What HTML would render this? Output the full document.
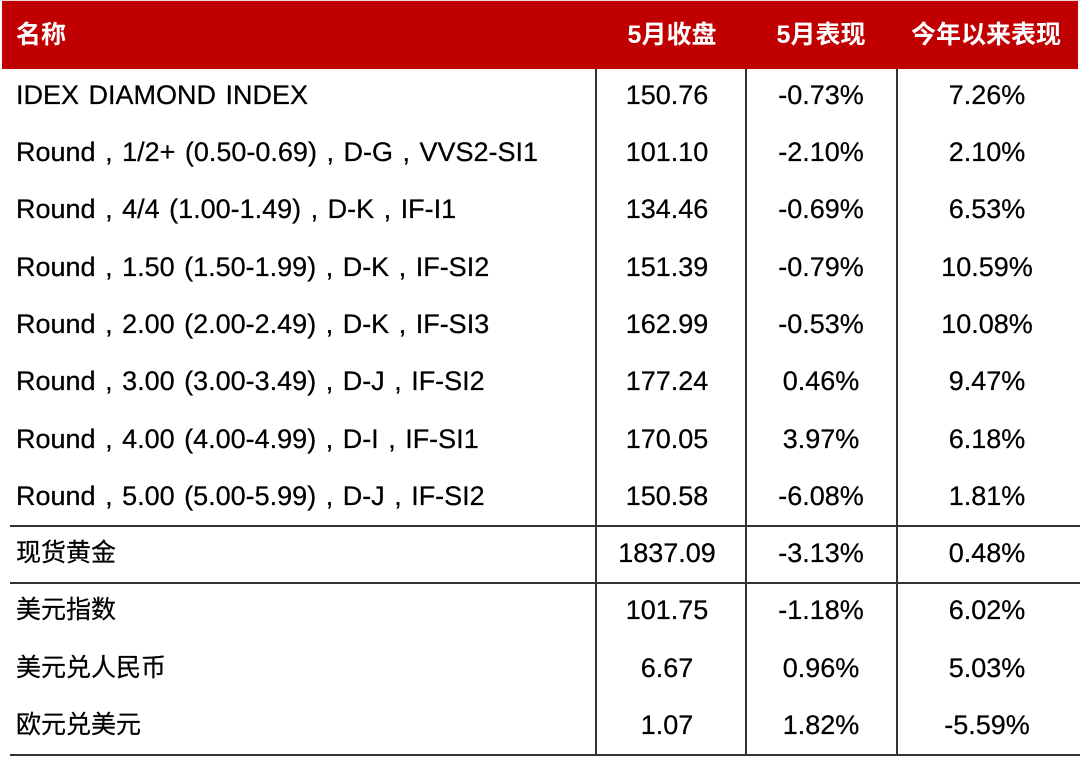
<!DOCTYPE html>
<html>
<head>
<meta charset="utf-8">
<style>
  html, body { margin:0; padding:0; background:#fff; }
  body { width:1080px; height:772px; position:relative; overflow:hidden;
         font-family:"Liberation Sans","Noto Sans CJK SC",sans-serif; color:#000; }
  .hdr { position:absolute; left:2px; top:1px; width:1076px; height:68px; background:#C00000; }
  .topline { position:absolute; left:0; top:0; width:1080px; height:1px; background:#f3d6d6; }
  .ht { position:absolute; top:1px; height:68px; line-height:68px; color:#fff; font-weight:bold;
        font-size:25px; font-family:"Liberation Sans","Noto Sans CJK SC",sans-serif; white-space:nowrap; }
  .c { text-align:center; width:200px; }
  .row { position:absolute; left:0; width:1080px; height:40px; }
  .row span { position:absolute; top:0; height:40px; line-height:40px; font-size:27px; white-space:nowrap;
              -webkit-text-stroke:0.25px #000; }
  .row .lab { left:16px; word-spacing:2px; }
  .row .cj { font-size:25px; font-family:"Liberation Sans","Noto Sans CJK SC",sans-serif; }
  .row .v2 { left:567px; width:200px; text-align:center; }
  .row .v3 { left:721px; width:200px; text-align:center; }
  .row .v4 { left:887px; width:200px; text-align:center; }
  .vl { position:absolute; top:69px; height:687px; width:2px; background:#333; }
  .hl { position:absolute; left:10px; width:1070px; height:2px; background:#333; }
</style>
</head>
<body>
<div class="topline"></div>
<div class="hdr"></div>
<div class="ht" style="left:16px;">名称</div>
<div class="ht c" style="left:572px;">5月收盘</div>
<div class="ht c" style="left:721px;">5月表现</div>
<div class="ht c" style="left:886px;">今年以来表现</div>

<div class="vl" style="left:595px;"></div>
<div class="vl" style="left:745px;"></div>
<div class="vl" style="left:896px;"></div>

<div class="hl" style="top:525px;"></div>
<div class="hl" style="top:582px;"></div>
<div class="hl" style="top:754px;"></div>

<div class="row" style="top:74.7px;"><span class="lab">IDEX DIAMOND INDEX</span><span class="v2">150.76</span><span class="v3">-0.73%</span><span class="v4">7.26%</span></div>
<div class="row" style="top:132px;"><span class="lab">Round , 1/2+ (0.50-0.69) , D-G , VVS2-SI1</span><span class="v2">101.10</span><span class="v3">-2.10%</span><span class="v4">2.10%</span></div>
<div class="row" style="top:189.3px;"><span class="lab">Round , 4/4 (1.00-1.49) , D-K , IF-I1</span><span class="v2">134.46</span><span class="v3">-0.69%</span><span class="v4">6.53%</span></div>
<div class="row" style="top:246.6px;"><span class="lab">Round , 1.50 (1.50-1.99) , D-K , IF-SI2</span><span class="v2">151.39</span><span class="v3">-0.79%</span><span class="v4">10.59%</span></div>
<div class="row" style="top:303.9px;"><span class="lab">Round , 2.00 (2.00-2.49) , D-K , IF-SI3</span><span class="v2">162.99</span><span class="v3">-0.53%</span><span class="v4">10.08%</span></div>
<div class="row" style="top:361.2px;"><span class="lab">Round , 3.00 (3.00-3.49) , D-J , IF-SI2</span><span class="v2">177.24</span><span class="v3">0.46%</span><span class="v4">9.47%</span></div>
<div class="row" style="top:418.5px;"><span class="lab">Round , 4.00 (4.00-4.99) , D-I , IF-SI1</span><span class="v2">170.05</span><span class="v3">3.97%</span><span class="v4">6.18%</span></div>
<div class="row" style="top:475.8px;"><span class="lab">Round , 5.00 (5.00-5.99) , D-J , IF-SI2</span><span class="v2">150.58</span><span class="v3">-6.08%</span><span class="v4">1.81%</span></div>
<div class="row" style="top:533.1px;"><span class="lab cj">现货黄金</span><span class="v2">1837.09</span><span class="v3">-3.13%</span><span class="v4">0.48%</span></div>
<div class="row" style="top:590.4px;"><span class="lab cj">美元指数</span><span class="v2">101.75</span><span class="v3">-1.18%</span><span class="v4">6.02%</span></div>
<div class="row" style="top:647.7px;"><span class="lab cj">美元兑人民币</span><span class="v2">6.67</span><span class="v3">0.96%</span><span class="v4">5.03%</span></div>
<div class="row" style="top:705px;"><span class="lab cj">欧元兑美元</span><span class="v2">1.07</span><span class="v3">1.82%</span><span class="v4">-5.59%</span></div>
</body>
</html>
